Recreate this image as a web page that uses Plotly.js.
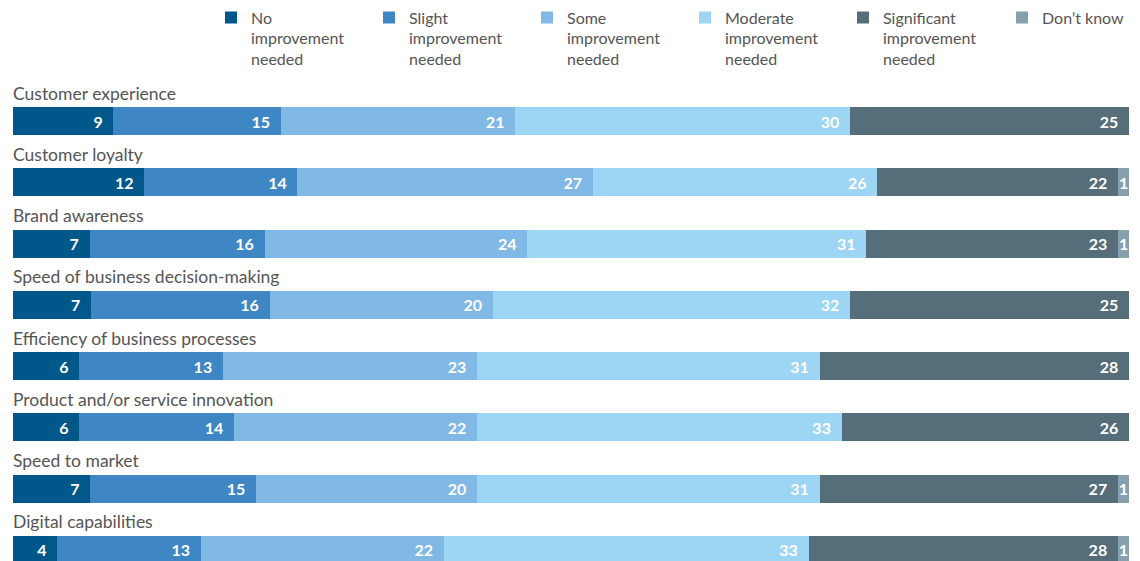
<!DOCTYPE html>
<html>
<head>
<meta charset="utf-8">
<script src="https://cdn.plot.ly/plotly-3.0.1.min.js"></script>
<style>html,body{margin:0;padding:0;background:#fff;}#chart{width:1140px;height:561px;}</style>
</head>
<body>
<div id="chart"></div>
<script>
const categories = [
  "Customer experience",
  "Customer loyalty",
  "Brand awareness",
  "Speed of business decision-making",
  "Efficiency of business processes",
  "Product and/or service innovation",
  "Speed to market",
  "Digital capabilities"
];
const seriesNames = [
  "No<br>improvement<br>needed",
  "Slight<br>improvement<br>needed",
  "Some<br>improvement<br>needed",
  "Moderate<br>improvement<br>needed",
  "Significant<br>improvement<br>needed",
  "Don\u2019t know"
];
const noImprovement = [9, 12, 7, 7, 6, 6, 7, 4];
const slightImprovement = [15, 14, 16, 16, 13, 14, 15, 13];
const someImprovement = [21, 27, 24, 20, 23, 22, 20, 22];
const moderateImprovement = [30, 26, 31, 32, 31, 33, 31, 33];
const significantImprovement = [25, 22, 23, 25, 28, 26, 27, 28];
const dontKnow = [null, 1, 1, null, null, null, 1, 1];

const seriesValues = [noImprovement, slightImprovement, someImprovement, moderateImprovement, significantImprovement, dontKnow];
const colors = ["#00578a", "#3f87c4", "#80b8e6", "#9dd5f5", "#566d7a", "#87a0ad"];

const traces = seriesValues.map((vals, i) => ({
  type: "bar",
  orientation: "h",
  name: seriesNames[i],
  legend: i === 5 ? "legend2" : "legend",
  y: categories,
  x: vals,
  text: vals.map(v => (v == null ? "" : (v >= 3 ? v + "\u00a0\u00a0" : String(v)))),
  texttemplate: "%{text}",
  textposition: "inside",
  insidetextanchor: i === 5 ? "middle" : "end",
  constraintext: "none",
  textfont: { family: "Lato, sans-serif", size: 16, color: "#ffffff", weight: 700 },
  marker: { color: colors[i], line: { width: 0 } },
  hoverinfo: "skip"
}));

const annotations = categories.map(c => ({
  xref: "paper", yref: "y",
  x: 0, y: c,
  xanchor: "left", yanchor: "middle",
  xshift: -2,
  yshift: 28,
  text: c,
  showarrow: false,
  font: { family: "Lato, sans-serif", size: 17.5, color: "#555555" }
}));

const legendFont = { family: "Lato, sans-serif", size: 16, color: "#555555" };

const layout = {
  width: 1140, height: 561,
  margin: { l: 13, r: 11, t: 90, b: 0 },
  paper_bgcolor: "#ffffff",
  plot_bgcolor: "#ffffff",
  barmode: "stack",
  barnorm: "percent",
  bargap: 0.543,
  showlegend: true,
  legend: {
    orientation: "h",
    x: (211 - 13) / 1116, xanchor: "left",
    y: 1.19, yanchor: "top",
    traceorder: "normal",
    valign: "top",
    entrywidth: 113, entrywidthmode: "pixels",
    font: legendFont,
    itemclick: false, itemdoubleclick: false
  },
  legend2: {
    orientation: "h",
    x: (1002 - 13) / 1116, xanchor: "left",
    y: 1.19, yanchor: "top",
    valign: "top",
    font: legendFont,
    itemclick: false, itemdoubleclick: false
  },
  xaxis: { range: [0, 100], visible: false, fixedrange: true },
  yaxis: { type: "category", range: [7.18, -0.506], visible: false, fixedrange: true },
  annotations: annotations,
  hovermode: false
};

Plotly.newPlot("chart", traces, layout, { displayModeBar: false, staticPlot: true });
</script>
</body>
</html>
